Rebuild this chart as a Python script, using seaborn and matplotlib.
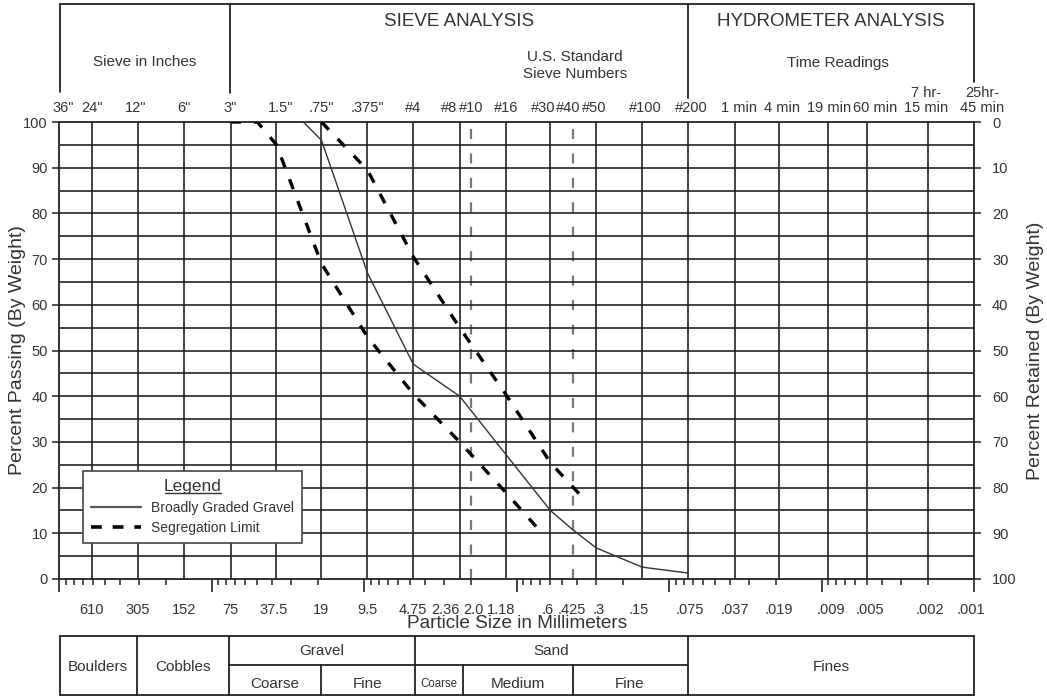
import numpy as np
import pandas as pd
import matplotlib
matplotlib.use("Agg")
import matplotlib.pyplot as plt
import seaborn as sns
from matplotlib.lines import Line2D
from matplotlib.ticker import LogLocator, NullFormatter
from matplotlib.transforms import blended_transform_factory, offset_copy

# ---------------- data ----------------
gravel_size = [75, 25, 19, 9.5, 4.75, 2.36, 0.6, 0.425, 0.3, 0.15, 0.075]
gravel_pass = [100, 100, 96, 67, 47, 40, 15, 10.7, 6.8, 2.6, 1.3]

coarse_limit_size = [75, 50, 37.5, 19, 9.5, 4.75, 2.36, 1.18, 0.7]
coarse_limit_pass = [100, 100, 95, 69, 53, 40.5, 30, 19, 10.5]

fine_limit_size = [19, 9.5, 4.75, 2.36, 1.18, 0.6, 0.35]
fine_limit_pass = [100, 89.5, 70.5, 55, 40.5, 25.5, 17]

grid_sizes = [610, 305, 152, 75, 37.5, 19, 9.5, 4.75, 2.36, 1.18, 0.6, 0.3,
              0.15, 0.075, 0.037, 0.019, 0.009, 0.005, 0.002]
dashed_sizes = [2.0, 0.425]

mm_sizes = [610, 305, 152, 75, 37.5, 19, 9.5, 4.75, 2.36, 2.0, 1.18, 0.6, 0.425,
            0.3, 0.15, 0.075, 0.037, 0.019, 0.009, 0.005, 0.002, 0.001]
mm_labels = ["610", "305", "152", "75", "37.5", "19", "9.5", "4.75", "2.36", "2.0",
             "1.18", ".6", ".425", ".3", ".15", ".075", ".037", ".019", ".009",
             ".005", ".002", ".001"]
mm_shift = [0, 0, 0, 0, -3, 0, 0, 0, -14, 3, -4, -3, -1, 2, -3, 2, 0, 0, 2, 3, 2, -3]

top_sizes = [914, 610, 305, 152, 75, 37.5, 19, 9.5, 4.75, 2.36, 2.0, 1.18, 0.6,
             0.425, 0.3, 0.15, 0.075, 0.037, 0.019, 0.009, 0.005, 0.002, 0.001]
top_labels = ['36"', '24"', '12"', '6"', '3"', '1.5"', '.75"', '.375"', '#4', '#8',
              '#10', '#16', '#30', '#40', '#50', '#100', '#200', '1 min', '4 min',
              '19 min', '60 min', '7 hr-\n15 min', '25hr-\n45 min']
top_shift = [-2, 0, -2, 0, 0, 4, 0, 0, 0, -11, 1, 1, -7, -5, -2, 3, 3, 4, 3, 1, 8, -2, 8]

y_ticks = list(range(0, 101, 10))
y_grid = list(range(5, 100, 5))

# ---------------- figure ----------------
W, H = 1047, 696
sns.set_theme(style="white")
plt.rcParams['font.family'] = ['Liberation Sans', 'DejaVu Sans']
TXT = '#333333'
LN = '#222222'
TICK_FS = 10.5

fig = plt.figure(figsize=(W / 100, H / 100), dpi=100)
fig.patch.set_facecolor('white')


def fx(px):
    return px / W


def fy(py):
    return 1 - py / H


L, R, T, B = 59, 974, 122, 579
ax = fig.add_axes([fx(L), fy(B), fx(R) - fx(L), fy(T) - fy(B)])
ax.set_xscale('log')
ax.set_xlim(1000, 0.001)
ax.set_ylim(0, 100)

# grid
for s in grid_sizes:
    ax.axvline(s, color=LN, lw=1.2, zorder=1)
for s in dashed_sizes:
    ax.axvline(s, color='#777777', lw=1.6, ls=(0, (4.5, 6.5)), zorder=1)
for v in y_grid:
    ax.axhline(v, color=LN, lw=1.2, zorder=1)

# data lines
sns.lineplot(x=gravel_size, y=gravel_pass, sort=False, estimator=None, ax=ax,
             color='#333333', lw=1.0, zorder=3)
sns.lineplot(x=coarse_limit_size, y=coarse_limit_pass, sort=False, estimator=None,
             ax=ax, color='black', lw=2.4, zorder=3)
sns.lineplot(x=fine_limit_size, y=fine_limit_pass, sort=False, estimator=None,
             ax=ax, color='black', lw=2.4, zorder=3)
for ln in ax.get_lines()[-2:]:
    ln.set_linestyle((0, (3.2, 3.8)))
    ln.set_dash_capstyle('butt')

# ticks
ax.xaxis.set_major_locator(LogLocator(base=10, numticks=20))
ax.xaxis.set_minor_locator(LogLocator(base=10, subs=np.arange(2, 10), numticks=40))
ax.xaxis.set_major_formatter(NullFormatter())
ax.xaxis.set_minor_formatter(NullFormatter())
ax.tick_params(axis='x', which='major', direction='out', length=9, width=1.2,
               color=LN, bottom=True, top=False)
ax.tick_params(axis='x', which='minor', direction='out', length=4, width=1.1,
               color=LN, bottom=True, top=False)
ax.set_yticks(y_ticks)
ax.set_yticklabels([str(v) for v in y_ticks])
ax.tick_params(axis='y', which='major', direction='out', length=5, width=1.1,
               color=LN, left=True, pad=3, labelsize=TICK_FS, labelcolor=TXT)
for sp in ax.spines.values():
    sp.set_color(LN)
    sp.set_linewidth(1.3)
    sp.set_visible(True)
ax.set_ylabel('Percent Passing (By Weight)', fontsize=14, color=TXT)
ax.yaxis.set_label_coords((26 - L) / (R - L), 0.5)

ax2 = ax.twinx()
ax2.set_ylim(100, 0)
ax2.set_yticks(y_ticks)
ax2.set_yticklabels([str(v) for v in y_ticks])
ax2.tick_params(axis='y', direction='out', length=5, width=1.1, color=LN,
                right=True, pad=8, labelsize=TICK_FS, labelcolor=TXT)
for sp in ax2.spines.values():
    sp.set_visible(False)
ax2.set_ylabel('Percent Retained (By Weight)', fontsize=14, color=TXT,
               rotation=90)
ax2.yaxis.set_label_coords((1027 - L) / (R - L), 0.5)

# bottom mm labels and top sieve labels
bt = blended_transform_factory(ax.transData, ax.transAxes)
for s, lab, sh in zip(mm_sizes, mm_labels, mm_shift):
    tr = offset_copy(bt, fig=fig, x=sh, y=-(614 - B), units='dots')
    ax.text(s, 0, lab, transform=tr, ha='center', va='baseline',
            fontsize=TICK_FS, color=TXT, clip_on=False)
for s, lab, sh in zip(top_sizes, top_labels, top_shift):
    lines = lab.split('\n')
    for k, part in enumerate(reversed(lines)):
        tr = offset_copy(bt, fig=fig, x=sh, y=(T - 112) + 15 * k, units='dots')
        ax.text(s, 1, part, transform=tr, ha='center', va='baseline',
                fontsize=TICK_FS, color=TXT, clip_on=False)

fig.text(fx(517), fy(628), 'Particle Size in Millimeters', ha='center',
         va='baseline', fontsize=13.7, color=TXT)

# legend
handles = [Line2D([], [], color='#555555', lw=1.6),
           Line2D([], [], color='black', lw=2.6, ls=(0, (3.0, 3.0)))]
leg = ax.legend(handles, ['Broadly Graded Gravel', 'Segregation Limit'],
                title='Legend', loc='upper left',
                bbox_to_anchor=((83 - L) / (R - L), (B - 471) / (B - T)),
                borderaxespad=0, fontsize=10, title_fontsize=12.5,
                frameon=True, fancybox=False, handlelength=3.6,
                handletextpad=0.7, borderpad=0.6, labelspacing=0.45)
leg.get_frame().set_edgecolor('#444444')
leg.get_frame().set_linewidth(1.2)
leg.get_frame().set_facecolor('white')
leg.get_frame().set_alpha(1)
for t in leg.get_texts():
    t.set_color(TXT)
leg.get_title().set_color(TXT)
leg.set_zorder(10)


# header box and classification table (decorations, figure pixel coords)
def hline(x0, x1, y, lw=1.3):
    fig.add_artist(Line2D([fx(x0), fx(x1)], [fy(y), fy(y)], color=LN, lw=lw))


def vline(x, y0, y1, lw=1.3):
    fig.add_artist(Line2D([fx(x), fx(x)], [fy(y0), fy(y1)], color=LN, lw=lw))


def ftext(x, y, s, size):
    fig.text(fx(x), fy(y), s, ha='center', va='baseline', fontsize=size,
             color=TXT)


hline(60, 974, 4)
vline(60, 4, 92)
vline(230, 4, 93)
vline(688, 4, 98)
vline(974, 4, 82)
ftext(459, 26, 'SIEVE ANALYSIS', 13.5)
ftext(831, 26, 'HYDROMETER ANALYSIS', 13.5)
ftext(145, 66, 'Sieve in Inches', 11)
ftext(575, 61, 'U.S. Standard', 11)
ftext(575, 78, 'Sieve Numbers', 11)
ftext(838, 67, 'Time Readings', 11)

ty0, tym, ty1 = 636, 665, 695
hline(60, 974, ty0)
hline(60, 974, ty1)
hline(229, 688, tym)
for x in [60, 137, 229, 415, 688, 974]:
    vline(x, ty0, ty1)
for x in [321, 463, 573]:
    vline(x, tym, ty1)
ftext(98, 671, 'Boulders', 11)
ftext(183, 671, 'Cobbles', 11)
ftext(322, 655, 'Gravel', 11)
ftext(275, 688, 'Coarse', 11)
ftext(368, 688, 'Fine', 11)
ftext(551, 655, 'Sand', 11)
ftext(439, 687, 'Coarse', 8.3)
ftext(518, 688, 'Medium', 11)
ftext(630, 688, 'Fine', 11)
ftext(831, 671, 'Fines', 11)

fig.canvas.draw()
# underline legend title
tb = leg.get_title().get_window_extent()
inv = fig.transFigure.inverted()
(x0, y0), (x1, y1) = inv.transform([(tb.x0 + 1, tb.y0 + 1), (tb.x1 - 1, tb.y0 + 1)])
fig.add_artist(Line2D([x0, x1], [y0, y1], color=TXT, lw=1.0, zorder=20))

fig.savefig('out.png', dpi=100, facecolor='white')
